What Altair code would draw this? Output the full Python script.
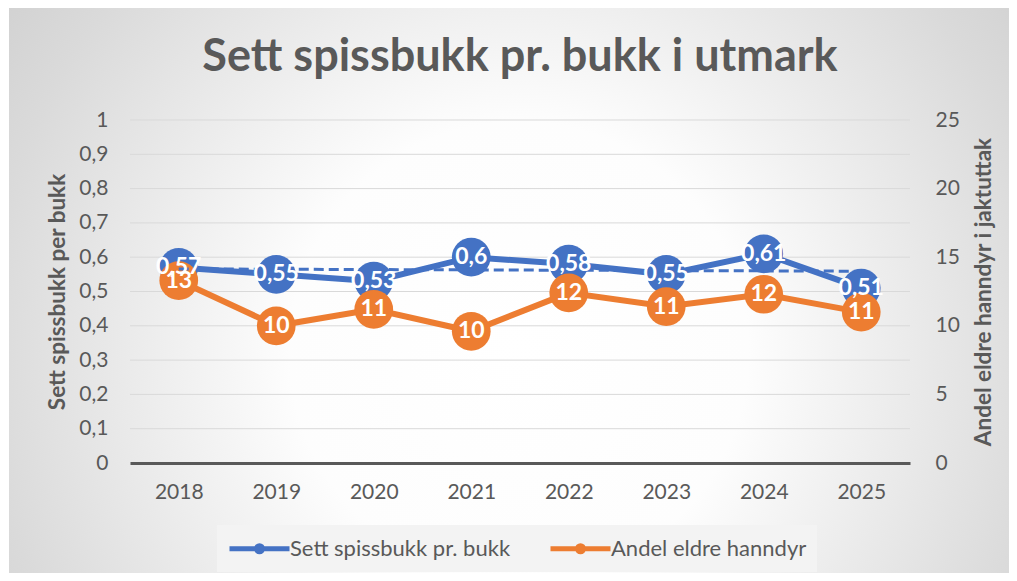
import altair as alt
import pandas as pd

# ---- data ----
years = [2018, 2019, 2020, 2021, 2022, 2023, 2024, 2025]
sett_spissbukk = [0.57, 0.55, 0.53, 0.60, 0.58, 0.55, 0.61, 0.51]
andel_eldre = [13.3, 10.0, 11.2, 9.6, 12.4, 11.4, 12.3, 11.0]

series_names = ["Sett spissbukk pr. bukk", "Andel eldre hanndyr"]
series_colors = ["#4472C4", "#ED7D31"]

left_ticks = [0, 0.1, 0.2, 0.3, 0.4, 0.5, 0.6, 0.7, 0.8, 0.9, 1.0]
right_ticks = [0, 5, 10, 15, 20, 25]

title_text = "Sett spissbukk pr. bukk i utmark"
left_title = "Sett spissbukk per bukk"
right_title = "Andel eldre hanndyr i jaktuttak"

FONT = "Lato"
TXT = "#595959"

df = pd.DataFrame({"year": years, "blue": sett_spissbukk, "orange": andel_eldre})
grid_df = pd.DataFrame({"tick": left_ticks[1:]})

W, H = 780, 343
PAD = {"left": 122, "top": 112, "right": 99, "bottom": 110}

x_enc = alt.X(
    "year:O",
    scale=alt.Scale(type="point", domain=years, padding=0.5),
    axis=alt.Axis(
        title=None, labelAngle=0, labelFont=FONT, labelFontSize=21, labelColor=TXT,
        ticks=False, grid=False, domain=True, domainColor="#595959", domainWidth=3,
        labelPadding=18, zindex=1,
    ),
)

left_scale = alt.Scale(domain=[0, 1], nice=False, zero=True)
right_scale = alt.Scale(domain=[0, 25], nice=False, zero=True)

color_scale = alt.Scale(domain=series_names, range=series_colors)

base = alt.Chart(df)

# background with radial gradient (decoration only)
bg = alt.Chart(pd.DataFrame({"a": [0]})).mark_rect(
    fill=alt.RadialGradient(
        gradient="radial", x1=0.5, y1=0.55, r1=0.0, x2=0.5, y2=0.55, r2=0.75,
        stops=[alt.GradientStop(offset=0, color="#ffffff"),
               alt.GradientStop(offset=0.3, color="#fdfdfd"),
               alt.GradientStop(offset=0.7, color="#dadada"),
               alt.GradientStop(offset=1, color="#c4c4c4")],
    )
).encode(
    x=alt.value(-PAD["left"] + 1), x2=alt.value(W + PAD["right"] + 20),
    y=alt.value(-PAD["top"]), y2=alt.value(H + PAD["bottom"] + 20),
)

grid = alt.Chart(grid_df).mark_rule(color="#d9d9d9", strokeWidth=1).encode(
    y=alt.Y("tick:Q", scale=left_scale, axis=None),
)

blue_line = base.mark_line(strokeWidth=6).encode(
    x=x_enc,
    y=alt.Y("blue:Q", scale=left_scale, axis=alt.Axis(
        orient="left", values=left_ticks, title=left_title,
        labelExpr="replace(format(datum.value, '.1~f'), '.', ',')",
        labelFont=FONT, labelFontSize=21, labelColor=TXT, labelPadding=22,
        ticks=False, domain=False, grid=False, zindex=1,
        titleFont=FONT, titleFontSize=22.5, titleFontWeight="bold", titleColor=TXT,
        titleAngle=270, titleBaseline="middle", titleAlign="center",
        titleX=-73, titleY=H / 2,
    )),
    color=alt.Color("s:N", scale=color_scale, legend=alt.Legend(title=None)),
).transform_calculate(s="'" + series_names[0] + "'")

blue_pts = base.mark_circle(size=1500, opacity=1, color=series_colors[0]).encode(
    x=x_enc, y=alt.Y("blue:Q", scale=left_scale, axis=None),
)

orange_line = base.mark_line(strokeWidth=6).encode(
    x=x_enc,
    y=alt.Y("orange:Q", scale=right_scale, axis=alt.Axis(
        orient="right", values=right_ticks, title=right_title,
        labelFont=FONT, labelFontSize=21, labelColor=TXT, labelPadding=25,
        ticks=False, domain=False, grid=False, zindex=1,
        titleFont=FONT, titleFontSize=22.5, titleFontWeight="bold", titleColor=TXT,
        titleAngle=270, titleBaseline="middle", titleAlign="center",
        titleX=73, titleY=H / 2,
    )),
    color=alt.Color("s:N", scale=color_scale, legend=alt.Legend(title=None)),
).transform_calculate(s="'" + series_names[1] + "'")

orange_pts = base.mark_circle(size=1500, opacity=1, color=series_colors[1]).encode(
    x=x_enc, y=alt.Y("orange:Q", scale=right_scale, axis=None),
)

trend = base.transform_regression("year", "blue", method="linear").mark_line(
    strokeWidth=3, strokeDash=[10, 5], color=series_colors[0]
).encode(
    x=x_enc, y=alt.Y("blue:Q", scale=left_scale, axis=None),
)

blue_lbl = base.transform_calculate(
    lbl="replace(format(datum.blue, '.2~f'), '.', ',')"
).mark_text(font=FONT, fontSize=23, fontWeight="bold", color="white", baseline="middle").encode(
    x=x_enc, y=alt.Y("blue:Q", scale=left_scale, axis=None), text="lbl:N",
)

orange_lbl = base.transform_calculate(
    lbl="format(datum.orange, '.0f')"
).mark_text(font=FONT, fontSize=23, fontWeight="bold", color="white", baseline="middle").encode(
    x=x_enc, y=alt.Y("orange:Q", scale=right_scale, axis=None), text="lbl:N",
)

# line with a dot, 60px wide, drawn to the right of a 22px legend symbol slot
legend_symbol = ("M-1,0L4.4545,0M1.4545,0A0.2727,0.2727,0,1,0,2.0,0"
                 "A0.2727,0.2727,0,1,0,1.4545,0")

chart = alt.layer(
    bg, grid, blue_line, blue_pts, orange_line, orange_pts, trend, blue_lbl, orange_lbl
).resolve_scale(y="independent").properties(
    width=W, height=H,
    padding=PAD,
    autosize=alt.AutoSizeParams(type="none"),
    title=alt.TitleParams(
        text=title_text, font=FONT, fontSize=45, fontWeight="bold", color=TXT,
        anchor="middle", frame="group", offset=-72,
    ),
).configure_view(stroke=None).configure_legend(
    orient="none", legendX=87, legendY=405, direction="horizontal", columns=2,
    symbolType=legend_symbol, symbolSize=484, symbolStrokeWidth=5,
    labelFont=FONT, labelFontSize=22, labelColor=TXT, labelOffset=36, labelLimit=400,
    columnPadding=29, padding=10, fillColor="#f3f3f3", strokeColor=None,
    titlePadding=0,
)

chart.save("out.html", embed_options={"renderer": "svg", "actions": False})
